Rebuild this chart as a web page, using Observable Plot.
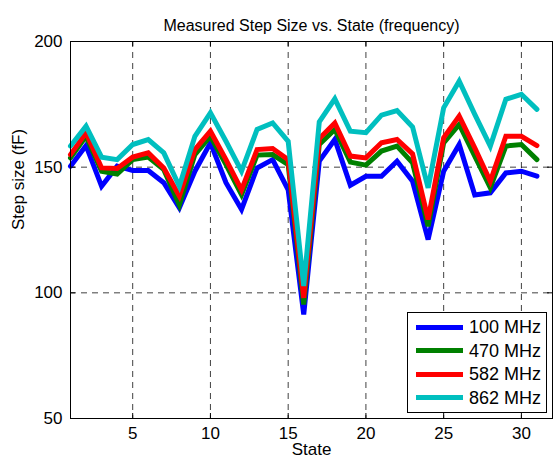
<!DOCTYPE html>
<html><head><meta charset="utf-8">
<script src="https://cdn.jsdelivr.net/npm/d3@7"></script>
<script src="https://cdn.jsdelivr.net/npm/@observablehq/plot@0.6"></script>
<style>
body{margin:0;background:#fff;}
#wrap{position:relative;width:553px;height:462px;font-family:"Liberation Sans",Arial,sans-serif;}
#legend{position:absolute;left:407px;top:312px;width:140px;height:101px;border:1px solid #000;background:#fff;box-sizing:border-box;padding-top:2.5px;}
#legend .row{display:flex;align-items:center;height:23.5px;}
#legend .sw{width:47px;height:5px;margin-left:8px;margin-right:6px;}
#legend .lb{font-size:18px;color:#000;line-height:18px;font-weight:normal;}
</style></head><body><div id="wrap"></div>
<script>
const title = "Measured Step Size vs. State (frequency)";
const xLabel = "State";
const yLabel = "Step size (fF)";
const states = [1,2,3,4,5,6,7,8,9,10,11,12,13,14,15,16,17,18,19,20,21,22,23,24,25,26,27,28,29,30,31];
const seriesNames = ["100 MHz","470 MHz","582 MHz","862 MHz"];
const seriesColors = ["#0000ff","#008000","#ff0000","#00bfbf"];
const f100 = [150.4,158.6,142.4,150.4,148.7,148.7,143.8,133.8,148.4,159.7,143.8,133.2,149.7,153,141,91.4,152.4,161,142.8,146.4,146.4,152.4,144.4,121.2,148.4,159,138.9,139.8,147.7,148.4,146.4];
const f470 = [153.7,162.3,148.4,147.3,153,154,149,135,155,162.3,151,139,154.8,155,151,95.4,159,165,152,150.8,156.4,158.4,151.7,126.5,159.7,167,154.4,141.8,158.4,159,153];
const f582 = [155,163.7,149.7,149.5,154,155.7,149.7,138.5,157,164.3,153,141,157,157.4,153,98,161.4,167.6,154.4,153.7,159.7,161,155.3,129.2,161.7,170.3,157.7,144.4,162.3,162.3,158.6];
const f862 = [158.4,166.3,154,153,159,161,155.7,142.4,162.3,171.6,160.3,148.4,165,167.6,160.3,102.7,168,177.2,164.3,163.7,170.7,172.5,166,141.8,173.6,184.2,171,158.4,177,179,173];
const xTicks = [5,10,15,20,25,30];
const yTicks = [50,100,150,200];
const yGrid = [100,150];

const seriesValues = [f100,f470,f582,f862];
const W = 553, H = 462;
const mT = 41, mB = 44, mL = 70, mR = 1;
const plotH = H - mT - mB, plotW = W - mL - mR;
const font = "'Liberation Sans', Arial, sans-serif";
const grid = {stroke:"#000", strokeOpacity:0.75, strokeDasharray:"6,5", strokeWidth:1};

const lineMarks = seriesValues.map((vals, i) =>
  Plot.lineY(vals, {x: (d, j) => states[j], y: d => d, stroke: seriesColors[i], strokeWidth: 5, strokeLinejoin: "miter", strokeMiterlimit: 4})
);

const chart = Plot.plot({
  width: W, height: H,
  marginTop: mT, marginBottom: mB, marginLeft: mL, marginRight: mR,
  style: {fontFamily: font, fontSize: "17px", color: "#000", background: "#fff"},
  x: {domain: [1, 32]},
  y: {domain: [50, 200]},
  marks: [
    Plot.ruleX(xTicks, grid),
    Plot.ruleY(yGrid, grid),
    ...lineMarks,
    Plot.ruleX(xTicks, {stroke:"#000", insetBottom: plotH - 5}),
    Plot.ruleX(xTicks, {stroke:"#000", insetTop: plotH - 5}),
    Plot.ruleY(yTicks, {stroke:"#000", insetRight: plotW - 5}),
    Plot.ruleY(yTicks, {stroke:"#000", insetLeft: plotW - 5}),
    Plot.frame({stroke:"#000", strokeWidth: 1}),
    Plot.axisX(xTicks, {tickSize: 0, tickPadding: 8, label: null, fontSize: 17}),
    Plot.axisY(yTicks, {tickSize: 0, tickPadding: 8, label: null, fontSize: 17}),
    Plot.text([title], {frameAnchor: "top", dy: -22, fontSize: 16, fill: "#000"}),
    Plot.text([xLabel], {frameAnchor: "bottom", dy: 36, fontSize: 17, fill: "#000"}),
    Plot.text([yLabel], {frameAnchor: "left", dx: -52, rotate: -90, fontSize: 17, fill: "#000"})
  ]
});
const wrap = document.getElementById("wrap");
wrap.appendChild(chart);
const leg = document.createElement("div");
leg.id = "legend";
seriesNames.forEach((n, i) => {
  const r = document.createElement("div"); r.className = "row";
  const s = document.createElement("div"); s.className = "sw"; s.style.background = seriesColors[i];
  const l = document.createElement("div"); l.className = "lb"; l.textContent = n;
  r.appendChild(s); r.appendChild(l); leg.appendChild(r);
});
wrap.appendChild(leg);
</script></body></html>
